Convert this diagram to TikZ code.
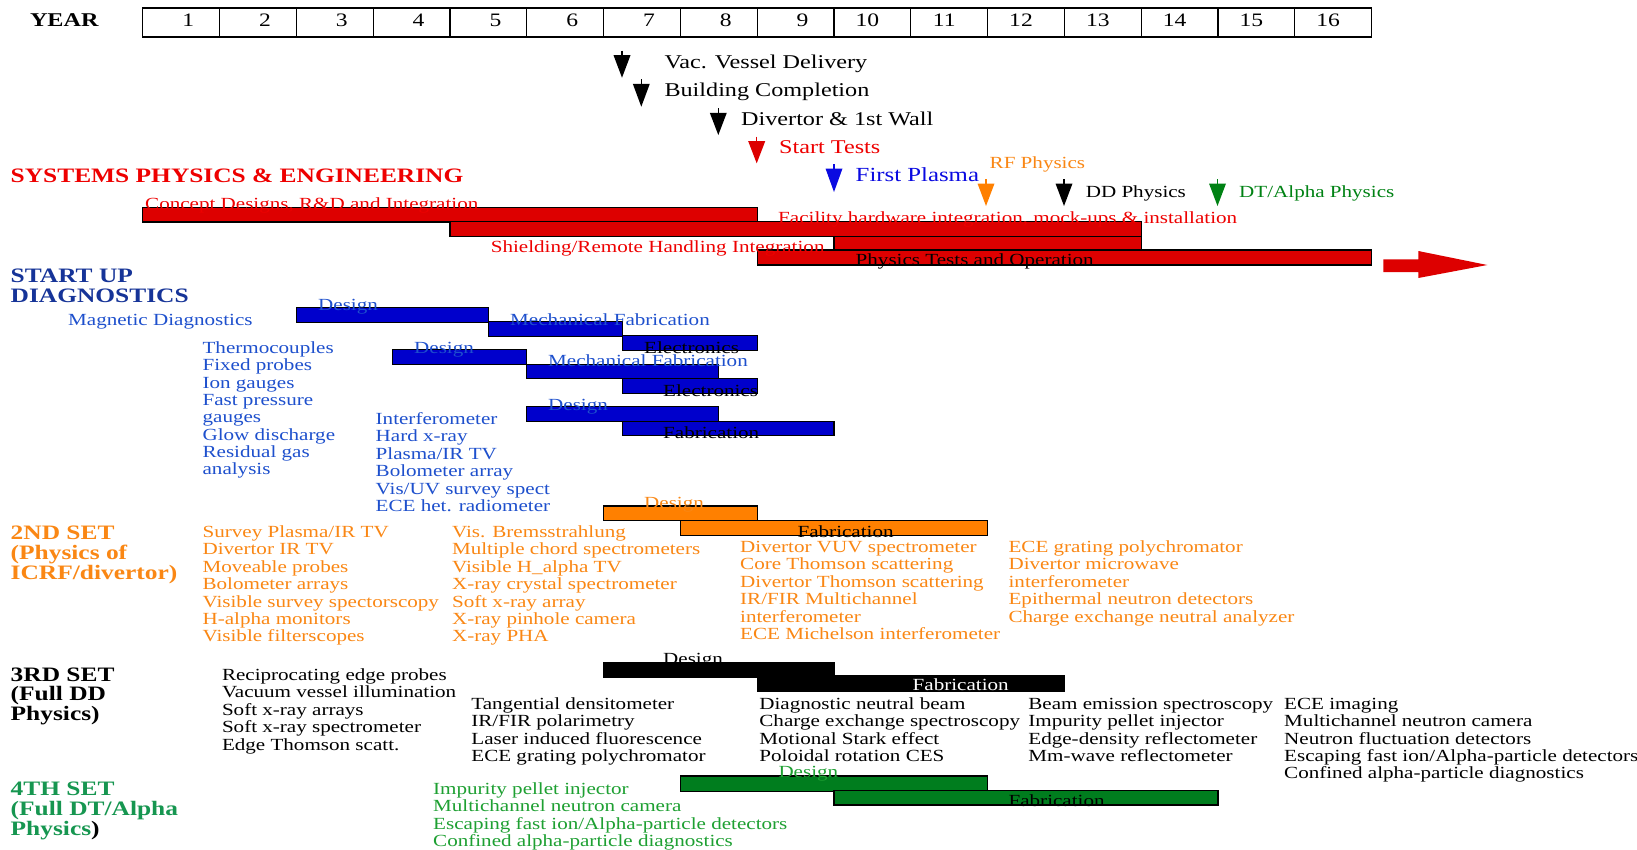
\documentclass[tikz,border=0pt]{standalone}
\usepackage{fontspec}
\setmainfont{Liberation Serif}[FakeStretch=1.24]
\definecolor{redbar}{RGB}{221,0,0}
\definecolor{redtxt}{RGB}{238,0,0}
\definecolor{bluebar}{RGB}{0,0,204}
\definecolor{bluetxt}{RGB}{30,80,205}
\definecolor{bluehead}{RGB}{22,52,152}
\definecolor{plasmablue}{RGB}{10,10,225}
\definecolor{orgbar}{RGB}{255,128,0}
\definecolor{orgtxt}{RGB}{250,135,20}
\definecolor{grnbar}{RGB}{0,125,30}
\definecolor{grntxt}{RGB}{30,160,50}
\definecolor{grnhead}{RGB}{22,150,80}
\definecolor{grnarrow}{RGB}{0,130,20}
\newcommand\gbar[5]{\path[bar, fill=#5] ({142.8+76.8*#1},#3) rectangle ({142.8+76.8*#2},#4);}
\newcommand\msarrow[4]{%
  \draw[#4, line width=1.3] (#1,#2) -- (#1,{#2+5});
  \fill[#4] ({#1-8.5},{#2+4.5}) -- ({#1+8.5},{#2+4.5}) -- (#1,#3) -- cycle;}
\newcommand\itemlist[6]{%
  \foreach \t [count=\i from 0] in {#6} \node[lst, #5, name=#1\i] at (#2,{#3+#4*\i}) {\t};}
\begin{document}
\begin{tikzpicture}[x=1pt,y=-1pt,
  lst/.style={anchor=base west, inner sep=0, font=\fontsize{17}{17}\selectfont},
  lbl/.style={anchor=base west, inner sep=0, font=\fontsize{17}{17}\selectfont},
  ms/.style={anchor=base west, inner sep=0, font=\fontsize{19.5}{19.5}\selectfont},
  head/.style={anchor=base west, inner sep=0, font=\fontsize{20.5}{20.5}\selectfont\bfseries},
  yr/.style={anchor=base, inner sep=0, font=\fontsize{19}{19}\selectfont},
  bar/.style={draw=black, line width=1.3}]
\useasboundingbox (0,0) rectangle (1637,849);
\fill[white] (0,0) rectangle (1637,849);

% Year row
\node[anchor=base west, inner sep=0, font=\fontsize{19.5}{19.5}\selectfont\bfseries] (year) at (29.8,26) {YEAR};
\draw[line width=1.3] (142.8,8) rectangle (1371.6,37);
\foreach \k in {1,...,15} \draw[line width=1.3] ({142.8+76.8*\k},8) -- ({142.8+76.8*\k},37);
\foreach \k in {1,...,9} \node[yr, name=y\k] at ({142.8+76.8*(\k-0.5)+7},26.7) {\k};
\foreach \k in {10,...,16} \node[yr, name=y\k] at ({142.8+76.8*(\k-0.5)-5},26.7) {\k};

% Milestones
\msarrow{622}{50.7}{77.7}{black}
\node[ms] (vac) at (664.3,68.3) {Vac. Vessel Delivery};
\msarrow{641.3}{79.3}{106.7}{black}
\node[ms] (bld) at (664.3,96) {Building Completion};
\msarrow{718.3}{108.3}{135}{black}
\node[ms] (div) at (741,125) {Divertor \& 1st Wall};
\msarrow{756.7}{136.7}{163.3}{redbar}
\node[ms, text=redtxt] (start) at (779,153.3) {Start Tests};
\msarrow{834}{164}{192}{plasmablue}
\node[ms, text=plasmablue, font=\fontsize{20}{20}\selectfont] (fp) at (855.5,181.7) {First Plasma};
\msarrow{986}{179}{206}{orgbar}
\node[lbl, text=orgtxt] (rf) at (989.5,168.3) {RF Physics};
\msarrow{1064}{179}{206}{black}
\node[lbl] (dd) at (1085.6,197.3) {DD Physics};
\msarrow{1217.5}{179}{206}{grnarrow}
\node[lbl, text=grnarrow] (dt) at (1239,197.3) {DT/Alpha Physics};

% Systems physics & engineering
\node[head, text=redtxt] (hsys) at (10.5,182.7) {SYSTEMS PHYSICS \& ENGINEERING};
\gbar{0}{8}{207.3}{222}{redbar}
\gbar{4}{13}{221.7}{236.3}{redbar}
\gbar{9}{13}{236.3}{250}{redbar}
\gbar{8}{16}{250}{265}{redbar}
\node[lbl, text=redtxt] (concept) at (145,209) {Concept Designs, R\&D and Integration};
\node[lbl, text=redtxt] (facility) at (778,223) {Facility hardware integration, mock-ups \& installation};
\node[lbl, text=redtxt] (shield) at (490.6,252) {Shielding/Remote Handling Integration};
\node[lbl] (phys) at (855.5,265.7) {Physics Tests and Operation};
\fill[redbar] (1383.3,259.3) -- (1418.3,259.3) -- (1418.3,251) -- (1487.3,265)
  -- (1418.3,278) -- (1418.3,272) -- (1383.3,272) -- cycle;

% Start up diagnostics
\node[head, text=bluehead] (hsu1) at (10.5,282.7) {START UP};
\node[head, text=bluehead] (hsu2) at (10.5,302.3) {DIAGNOSTICS};
\node[lbl, text=bluetxt] (mag) at (68,325.5) {Magnetic Diagnostics};
\gbar{2}{4.5}{307.3}{322.3}{bluebar}
\gbar{4.5}{6.25}{321.7}{336.3}{bluebar}
\gbar{6.25}{8}{335.3}{350.3}{bluebar}
\gbar{3.25}{5}{349.3}{364.3}{bluebar}
\gbar{5}{7.5}{364.3}{378.3}{bluebar}
\gbar{6.25}{8}{378.3}{393.3}{bluebar}
\gbar{5}{7.5}{406.7}{421.3}{bluebar}
\gbar{6.25}{9}{421.3}{435.7}{bluebar}
\node[lbl, text=bluetxt] (bd1) at (318,310) {Design};
\node[lbl, text=bluetxt] (bm1) at (510,325) {Mechanical Fabrication};
\node[lbl] (be1) at (644,353.3) {Electronics};
\node[lbl, text=bluetxt] (bd2) at (414,353.3) {Design};
\node[lbl, text=bluetxt] (bm2) at (548,366.7) {Mechanical Fabrication};
\node[lbl] (be2) at (663,396) {Electronics};
\node[lbl, text=bluetxt] (bd3) at (548,410) {Design};
\node[lbl] (bf3) at (663,438.3) {Fabrication};
\itemlist{bla}{202.4}{353.5}{17.3}{text=bluetxt}{Thermocouples,Fixed probes,Ion gauges,Fast pressure,gauges,Glow discharge,Residual gas,analysis}
\itemlist{blb}{375.5}{424.5}{17.4}{text=bluetxt}{Interferometer,Hard x-ray,Plasma/IR TV,Bolometer array,Vis/UV survey spect,ECE het. radiometer}

% 2nd set
\node[head, text=orgtxt] (h21) at (10.5,539) {2ND SET};
\node[head, text=orgtxt] (h22) at (10.5,559) {(Physics of};
\node[head, text=orgtxt] (h23) at (10.5,579.5) {ICRF/divertor)};
\gbar{6}{8}{506}{520.7}{orgbar}
\gbar{7}{11}{520.7}{535.3}{orgbar}
\node[lbl, text=orgtxt] (od) at (644,508) {Design};
\node[lbl] (of) at (797.4,537.3) {Fabrication};
\itemlist{ola}{202.4}{537.5}{17.4}{text=orgtxt}{Survey Plasma/IR TV,Divertor IR TV,Moveable probes,Bolometer arrays,Visible survey spectorscopy,H-alpha monitors,Visible filterscopes}
\itemlist{olb}{451.9}{537.5}{17.4}{text=orgtxt}{Vis. Bremsstrahlung,Multiple chord spectrometers,Visible H\_alpha TV,X-ray crystal spectrometer,Soft x-ray array,X-ray pinhole camera,X-ray PHA}
\itemlist{olc}{740}{552.5}{17.4}{text=orgtxt}{Divertor VUV spectrometer,Core Thomson scattering,Divertor Thomson scattering,IR/FIR Multichannel,interferometer,ECE Michelson interferometer}
\itemlist{old}{1008.4}{552.5}{17.4}{text=orgtxt}{ECE grating polychromator,Divertor microwave,interferometer,Epithermal neutron detectors,Charge exchange neutral analyzer}

% 3rd set
\node[head] (h31) at (10.5,681) {3RD SET};
\node[head] (h32) at (10.5,700.5) {(Full DD};
\node[head] (h33) at (10.5,720.5) {Physics)};
\gbar{6}{9}{662.3}{677.3}{black}
\gbar{8}{12}{676}{691.5}{black}
\node[lbl] (kd) at (663,664.3) {Design};
\node[lbl, text=white] (kf) at (912.5,690.5) {Fabrication};
\itemlist{kla}{221.8}{680.3}{17.5}{}{Reciprocating edge probes,Vacuum vessel illumination,Soft x-ray arrays,Soft x-ray spectrometer,Edge Thomson scatt.}
\itemlist{klb}{471.2}{709.2}{17.4}{}{Tangential densitometer,IR/FIR polarimetry,Laser induced fluorescence,ECE grating polychromator}
\itemlist{klc}{759.2}{709.2}{17.4}{}{Diagnostic neutral beam,Charge exchange spectroscopy,Motional Stark effect,Poloidal rotation CES}
\itemlist{kld}{1028.2}{709.2}{17.4}{}{Beam emission spectroscopy,Impurity pellet injector,Edge-density reflectometer,Mm-wave reflectometer}
\itemlist{kle}{1284}{709.2}{17.4}{}{ECE imaging,Multichannel neutron camera,Neutron fluctuation detectors,Escaping fast ion/Alpha-particle detectors,Confined alpha-particle diagnostics}

% 4th set
\node[head, text=grnhead] (h41) at (10.5,795) {4TH SET};
\node[head, text=grnhead] (h42) at (10.5,815) {(Full DT/Alpha};
\node[head, text=grnhead] (h43) at (10.5,835) {Physics\textcolor{black}{)}};
\gbar{7}{11}{776}{791.3}{grnbar}
\gbar{9}{14}{790.7}{805}{grnbar}
\node[lbl, text=grntxt] (gd) at (778.3,777.3) {Design};
\node[lbl] (gf) at (1008.4,806) {Fabrication};
\itemlist{gla}{433}{794}{17.5}{text=grntxt}{Impurity pellet injector,Multichannel neutron camera,Escaping fast ion/Alpha-particle detectors,Confined alpha-particle diagnostics}
\end{tikzpicture}
\end{document}
